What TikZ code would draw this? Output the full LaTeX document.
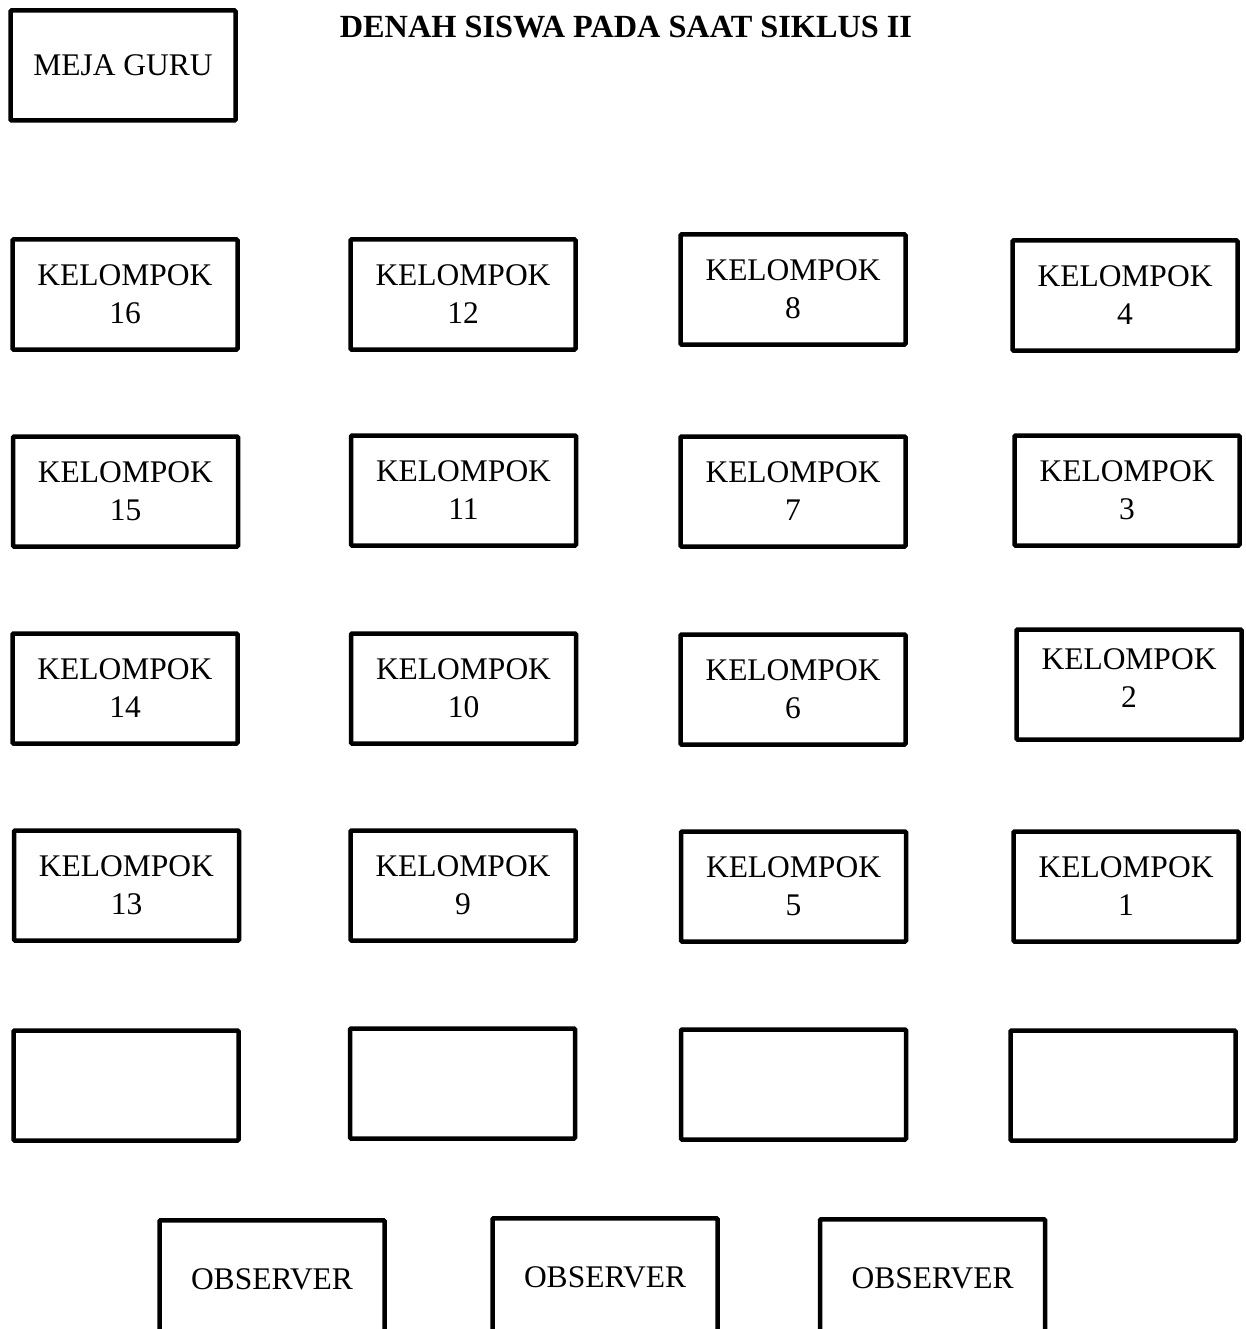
\documentclass[tikz,border=0pt]{standalone}
\usepackage{fontspec}
\setmainfont{Liberation Serif}
\begin{document}
\begin{tikzpicture}[x=1pt,y=-1pt,
  desk/.style={draw, line width=4.5pt, rounded corners=1pt, minimum width=225pt, minimum height=110pt, inner sep=0pt, align=center, font=\fontsize{31.5}{38}\selectfont},
  obs/.style={desk, minimum height=118pt, anchor=north},
  ttl/.style={font=\fontsize{32.3}{38}\selectfont\bfseries}]
\useasboundingbox (0,0) rectangle (1245,1329);
\clip (0,0) rectangle (1245,1329);
\node[ttl] (title) at (626,27) {DENAH SISWA PADA SAAT SIKLUS II};
\node[desk] (meja) at (123,65.5) {MEJA GURU};
\node[desk] (k16) at (125,294.5) {KELOMPOK\\16};
\node[desk] (k12) at (463,294.5) {KELOMPOK\\12};
\node[desk] (k8) at (793,289.5) {KELOMPOK\\8};
\node[desk] (k4) at (1125,295.5) {KELOMPOK\\4};
\node[desk] (k15) at (125.5,491.5) {KELOMPOK\\15};
\node[desk] (k11) at (463.5,490.5) {KELOMPOK\\11};
\node[desk] (k7) at (793,491.5) {KELOMPOK\\7};
\node[desk] (k3) at (1127,490.5) {KELOMPOK\\3};
\node[desk] (k14) at (125,688.5) {KELOMPOK\\14};
\node[desk] (k10) at (463.5,688.5) {KELOMPOK\\10};
\node[desk] (k6) at (793,689.5) {KELOMPOK\\6};
\node[desk, text depth=12pt] (k2) at (1129,684.5) {KELOMPOK\\2};
\node[desk] (k13) at (126.5,885.5) {KELOMPOK\\13};
\node[desk] (k9) at (463,885.5) {KELOMPOK\\9};
\node[desk] (k5) at (793.5,886.5) {KELOMPOK\\5};
\node[desk] (k1) at (1126,886.5) {KELOMPOK\\1};
\node[desk] (e1) at (126,1085.5) {};
\node[desk] (e2) at (462.5,1083.5) {};
\node[desk] (e3) at (793.5,1084.5) {};
\node[desk] (e4) at (1123,1085.5) {};
\node[obs] (o1) at (272,1218) {OBSERVER};
\node[obs] (o2) at (605,1216) {OBSERVER};
\node[obs] (o3) at (932.5,1217) {OBSERVER};
\end{tikzpicture}
\end{document}
